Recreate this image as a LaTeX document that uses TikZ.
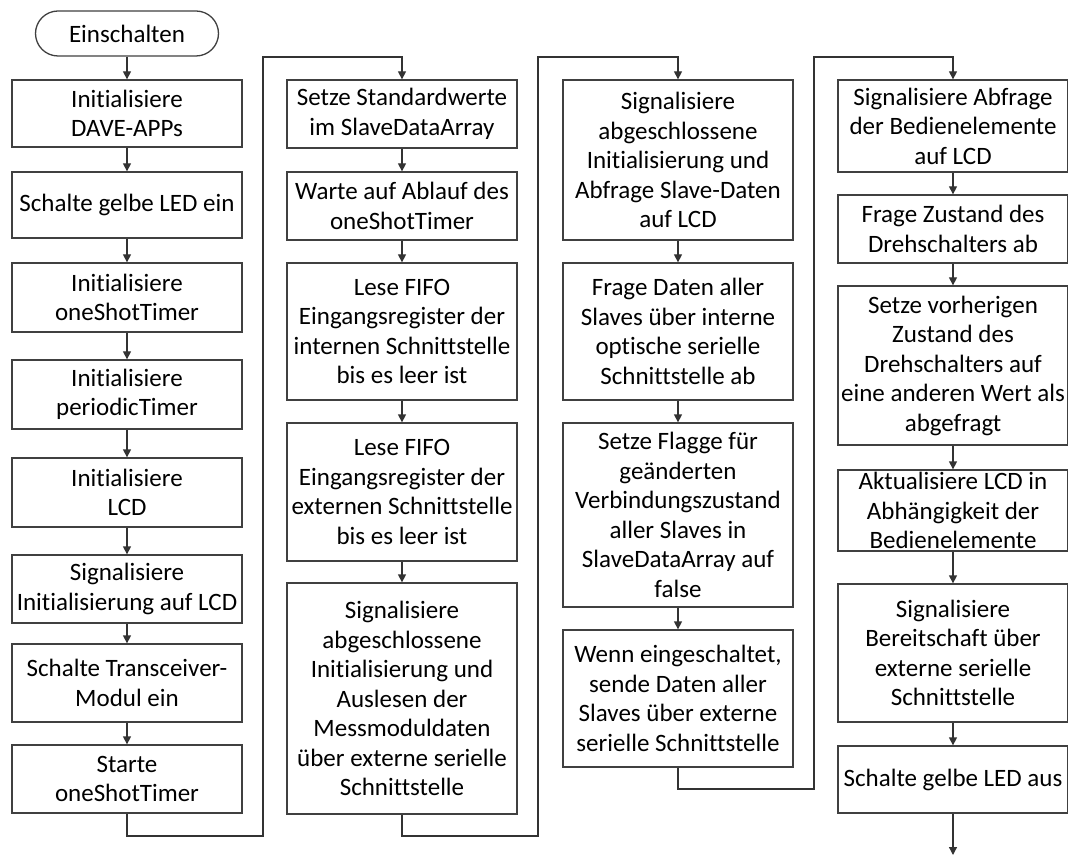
\documentclass[tikz,border=0pt]{standalone}
\usepackage{fontspec}
\setmainfont{Carlito}[Ligatures=NoCommon]
\usetikzlibrary{arrows.meta}
\begin{document}
\begin{tikzpicture}[x=1pt,y=-1pt,
  box/.style={draw=black!75, line width=1.3pt, fill=white, minimum width=230pt,
    align=center, inner sep=0pt, font=\fontsize{25}{29.5}\selectfont},
  term/.style={box, minimum width=183pt, minimum height=45pt, rounded corners=22.5pt},
  flow/.style={draw=black!80, line width=1.3pt, -{Triangle[length=8pt,width=8pt]}}]
\useasboundingbox (0,0) rectangle (1068,858);

% column 1
\node[term] (s) at (127,33.5) {Einschalten};
\node[box, minimum height=67pt] (a1) at (127,113.5) {Initialisiere\\DAVE-APPs};
\node[box, minimum height=66pt] (a2) at (127,205) {Schalte gelbe LED ein};
\node[box, minimum height=69pt] (a3) at (127,297.5) {Initialisiere\\oneShotTimer};
\node[box, minimum height=69pt] (a4) at (127,394.5) {Initialisiere\\periodicTimer};
\node[box, minimum height=69pt] (a5) at (127,492.5) {Initialisiere\\LCD};
\node[box, minimum height=68pt] (a6) at (127,589) {Signalisiere\\Initialisierung auf LCD};
\node[box, minimum height=78pt] (a7) at (127,683) {Schalte Transceiver-\\Modul ein};
\node[box, minimum height=68pt] (a8) at (127,779) {Starte\\oneShotTimer};

% column 2
\node[box, minimum height=68pt] (b1) at (402,114) {Setze Standardwerte\\im SlaveDataArray};
\node[box, minimum height=68pt] (b2) at (402,206) {Warte auf Ablauf des\\oneShotTimer};
\node[box, minimum height=137pt] (b3) at (402,331.5) {Lese FIFO\\Eingangsregister der\\internen Schnittstelle\\bis es leer ist};
\node[box, minimum height=138pt] (b4) at (402,492) {Lese FIFO\\Eingangsregister der\\externen Schnittstelle\\bis es leer ist};
\node[box, minimum height=231pt] (b5) at (402,698.5) {Signalisiere\\abgeschlossene\\Initialisierung und\\Auslesen der\\Messmoduldaten\\über externe serielle\\Schnittstelle};

% column 3
\node[box, minimum height=160pt] (c1) at (678,160) {Signalisiere\\abgeschlossene\\Initialisierung und\\Abfrage Slave-Daten\\auf LCD};
\node[box, minimum height=137pt] (c2) at (678,331.5) {Frage Daten aller\\Slaves über interne\\optische serielle\\Schnittstelle ab};
\node[box, minimum height=184pt] (c3) at (678,515) {Setze Flagge für\\geänderten\\Verbindungszustand\\aller Slaves in\\SlaveDataArray auf\\false};
\node[box, minimum height=137pt] (c4) at (678,698.5) {Wenn eingeschaltet,\\sende Daten aller\\Slaves über externe\\serielle Schnittstelle};

% column 4
\node[box, minimum height=92pt] (d1) at (953,126) {Signalisiere Abfrage\\der Bedienelemente\\auf LCD};
\node[box, minimum height=68pt] (d2) at (953,229) {Frage Zustand des\\Drehschalters ab};
\node[box, minimum height=159pt] (d3) at (953,365.5) {Setze vorherigen\\Zustand des\\Drehschalters auf\\eine anderen Wert als\\abgefragt};
\node[box, minimum height=81pt] (d4) at (953,510.5) {Aktualisiere LCD in\\Abhängigkeit der\\Bedienelemente};
\node[box, minimum height=138pt] (d5) at (953,653) {Signalisiere\\Bereitschaft über\\externe serielle\\Schnittstelle};
\node[box, minimum height=67pt] (d6) at (953,779.5) {Schalte gelbe LED aus};

% bend points of the column changes
\coordinate (r1) at (263,836);
\coordinate (t1) at (402,57);
\coordinate (r2) at (538,836);
\coordinate (t2) at (678,57);
\coordinate (r3) at (814,789);
\coordinate (t3) at (953,57);
\coordinate (e) at (953,855);

% straight flow
\foreach \u/\v in {s/a1,a1/a2,a2/a3,a3/a4,a4/a5,a5/a6,a6/a7,a7/a8,
                   b1/b2,b2/b3,b3/b4,b4/b5,
                   c1/c2,c2/c3,c3/c4,
                   d1/d2,d2/d3,d3/d4,d4/d5,d5/d6}
  \draw[flow] (\u) -- (\v);

% column changes
\draw[flow] (a8.south) |- (r1) |- (t1) -- (b1.north);
\draw[flow] (b5.south) |- (r2) |- (t2) -- (c1.north);
\draw[flow] (c4.south) |- (r3) |- (t3) -- (d1.north);
\draw[flow] (d6) -- (e);
\end{tikzpicture}
\end{document}
